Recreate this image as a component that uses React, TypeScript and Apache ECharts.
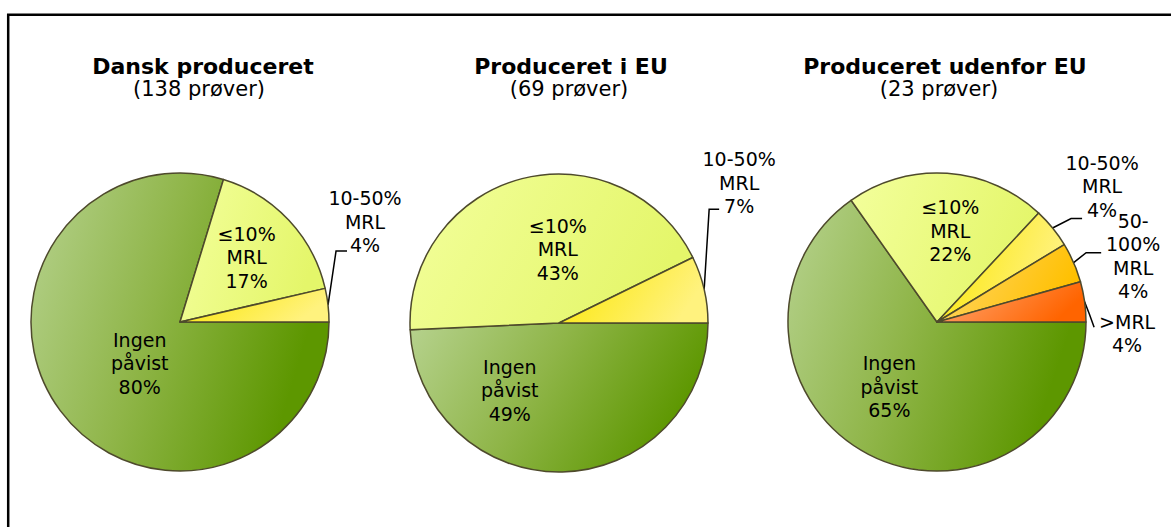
import React, { useEffect, useRef } from 'react';
import * as echarts from 'echarts';

// ---- data ----
const categories = ['Ingen påvist', '≤10% MRL', '10-50% MRL', '50-100% MRL', '>MRL'];
const labelNames = ['Ingen\npåvist', '≤10%\nMRL', '10-50%\nMRL', '50-\n100%\nMRL', '>MRL'];
const danskCounts = [110, 23, 5];
const euCounts = [34, 30, 5];
const udenforCounts = [15, 5, 1, 1, 1];
const pieTitles = ['Dansk produceret', 'Produceret i EU', 'Produceret udenfor EU'];
const pieSubtitles = ['(138 prøver)', '(69 prøver)', '(23 prøver)'];

// ---- layout ----
const PIE_CENTERS = [[180, 322], [559, 323], [937, 322]];
const PIE_RADIUS = 149;
const TITLE_X = [203, 571, 945];
const SUB_X = [199, 569, 939];
const TITLE_TOP = 55;
const SUB_TOP = 78;
// label shifts: inside labels relative to default inside position, outside labels relative to edge anchor
const LABEL_SHIFT = [
  [[22, -5], [10, -12], [37, -83.5]],
  [[-51, -10], [18, 1.5], [35, -106.5]],
  [[-12, -4], [8, -14], [49.5, -41.5], [59.5, -6.5], [42.5, 32]],
];
const LEADER: any[] = [
  [null, null, [[8, -54], [19, -54]]],
  [null, null, [[5, -80], [15, -80]]],
  [null, null, [[18.5, -9.5], [29.5, -9.5]], [[12.5, -10], [27.5, -10]], [[5, 13], [9.5, 25.5]]],
];

const FONT = 'DejaVu Sans';

const grad = (stops: string[]) =>
  new echarts.graphic.LinearGradient(
    0, 0, 1, 0.3,
    stops.map((c, i) => ({ offset: i / (stops.length - 1), color: c }))
  );

const SLICE_FILLS = [
  ['#b6d28e', '#8fb548', '#5d9700'],
  ['#f3ff9c', '#e4f66a'],
  ['#fbe600', '#fff27e'],
  ['#ffd870', '#ffc000'],
  ['#ffaa7a', '#ff6400'],
];

export default function App() {
  const ref = useRef<HTMLDivElement>(null);
  useEffect(() => {
    if (!ref.current) return;
    const chart = echarts.init(ref.current, undefined, { renderer: 'svg' });
    const allCounts = [danskCounts, euCounts, udenforCounts];
    const option: any = {
      animation: false,
      backgroundColor: '#fff',
      graphic: [
        {
          type: 'rect',
          silent: true,
          z: -1,
          shape: { x: 8.2, y: 14.7, width: 1400, height: 900 },
          style: { fill: 'none', stroke: '#000', lineWidth: 2.5 },
        },
      ],
      title: [
        ...pieTitles.map((t, p) => ({
          text: t,
          left: TITLE_X[p],
          top: TITLE_TOP,
          textAlign: 'center',
          padding: 0,
          textStyle: { fontFamily: FONT, fontWeight: 'bold', fontSize: 22, lineHeight: 22, color: '#000' },
        })),
        ...pieSubtitles.map((t, p) => ({
          text: t,
          left: SUB_X[p],
          top: SUB_TOP,
          textAlign: 'center',
          padding: 0,
          textStyle: { fontFamily: FONT, fontWeight: 'normal', fontSize: 21, lineHeight: 21, color: '#000' },
        })),
      ],
      series: allCounts.map((arr, p) => ({
        type: 'pie',
        center: PIE_CENTERS[p],
        radius: PIE_RADIUS,
        startAngle: 0,
        clockwise: true,
        silent: true,
        avoidLabelOverlap: false,
        minAngle: 0,
        emphasis: { disabled: true },
        itemStyle: { borderColor: '#4e4a2c', borderWidth: 1.5 },
        label: {
          color: '#000',
          fontFamily: FONT,
          fontSize: 19,
          lineHeight: 23.5,
          align: 'center',
          textBorderWidth: 0,
          formatter: (params: any) =>
            labelNames[params.dataIndex] + '\n' + Math.round(params.percent) + '%',
        },
        labelLine: {
          length: 10,
          length2: 10,
          lineStyle: { color: '#000', width: 1.5 },
        },
        data: arr.map((v, i) => ({
          name: categories[i],
          value: v,
          itemStyle: { color: grad(SLICE_FILLS[i]) },
          label: { position: i < 2 ? 'inside' : 'outside' },
          labelLine: { show: i >= 2 },
        })),
        labelLayout: (params: any) => {
          const i = params.dataIndex;
          const shift = LABEL_SHIFT[p][i];
          const lead = LEADER[p][i];
          const pts = params.labelLinePoints;
          if (!lead || !pts) {
            const r = params.labelRect;
            return {
              x: r.x + r.width / 2 + shift[0],
              y: r.y + r.height / 2 + shift[1],
              align: 'center',
              verticalAlign: 'middle',
            };
          }
          const a = pts[0];
          return {
            x: a[0] + shift[0],
            y: a[1] + shift[1],
            align: 'center',
            verticalAlign: 'middle',
            labelLinePoints: [
              [a[0], a[1]],
              [a[0] + lead[0][0], a[1] + lead[0][1]],
              [a[0] + lead[1][0], a[1] + lead[1][1]],
            ],
          };
        },
      })),
    };
    chart.setOption(option);
    return () => chart.dispose();
  }, []);
  return (
    <div
      ref={ref}
      style={{ position: 'absolute', left: 0, top: 0, width: 1171, height: 527 }}
    />
  );
}
